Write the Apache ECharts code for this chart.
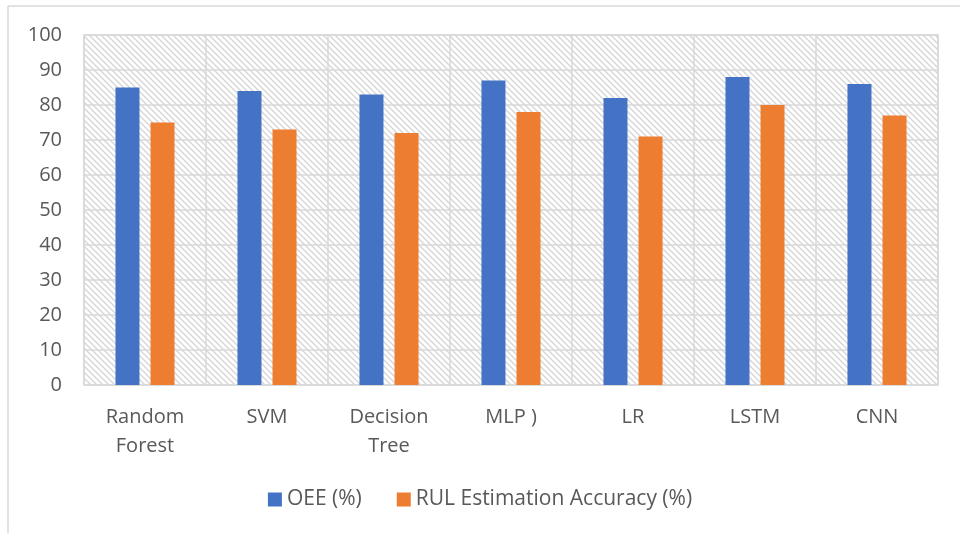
<!DOCTYPE html>
<html>
<head>
<meta charset="utf-8">
<script src="https://cdn.jsdelivr.net/npm/echarts@6/dist/echarts.min.js"></script>
<style>
  html, body { margin: 0; padding: 0; background: #fff; }
  #chart { width: 960px; height: 533px; }
</style>
</head>
<body>
<div id="chart"></div>
<script>
// data
const categories = ['Random\nForest', 'SVM', 'Decision\nTree', 'MLP )', 'LR', 'LSTM', 'CNN']
const oee = [85, 84, 83, 87, 82, 88, 86]
const rulAccuracy = [75, 73, 72, 78, 71, 80, 77]
const seriesNames = ['OEE (%)', 'RUL Estimation Accuracy (%)']

// hatched plot background
const makeHatch = () => {
  const s = 6
  const c = document.createElement('canvas')
  c.width = s
  c.height = s
  const ctx = c.getContext('2d')
  ctx.fillStyle = '#ffffff'
  ctx.fillRect(0, 0, s, s)
  ctx.strokeStyle = '#d6d6d6'
  ctx.lineWidth = 1.4
  ctx.beginPath()
  ctx.moveTo(-1, -1); ctx.lineTo(s + 1, s + 1)
  ctx.moveTo(-1, s - 1); ctx.lineTo(1, s + 1)
  ctx.moveTo(s - 1, -1); ctx.lineTo(s + 1, 1)
  ctx.stroke()
  return c
}

const font = 'Open Sans'
const grey = '#d9d9d9'

const chart = echarts.init(document.getElementById('chart'))
chart.setOption({
  animation: false,
  textStyle: { fontFamily: font },
  graphic: [
    { type: 'line', shape: { x1: 8, y1: 6, x2: 960, y2: 6 }, style: { stroke: grey, lineWidth: 1.5 } },
    { type: 'line', shape: { x1: 8, y1: 6, x2: 8, y2: 533 }, style: { stroke: grey, lineWidth: 1.5 } }
  ],
  grid: {
    left: 84, right: 22, top: 35, bottom: 148,
    show: true,
    backgroundColor: { image: makeHatch(), repeat: 'repeat' },
    borderColor: grey,
    borderWidth: 1.5
  },
  legend: {
    bottom: 18,
    left: 'center',
    icon: 'rect',
    itemWidth: 14,
    itemHeight: 14,
    itemGap: 35,
    textStyle: { fontSize: 21, color: '#595959', fontFamily: font },
    data: seriesNames
  },
  xAxis: {
    type: 'category',
    data: categories,
    axisLine: { show: false },
    axisTick: { show: false },
    splitLine: { show: true, lineStyle: { color: grey, width: 1.5 } },
    axisLabel: { color: '#595959', fontSize: 20, margin: 18, lineHeight: 29, interval: 0 }
  },
  yAxis: {
    type: 'value',
    min: 0, max: 100, interval: 10,
    axisLine: { show: false },
    axisTick: { show: false },
    splitLine: { lineStyle: { color: grey, width: 1.5 } },
    axisLabel: { color: '#595959', fontSize: 20, margin: 22 }
  },
  series: [
    { name: seriesNames[0], type: 'bar', data: oee, barWidth: 24, barGap: '46%', itemStyle: { color: '#4472c4' } },
    { name: seriesNames[1], type: 'bar', data: rulAccuracy, barWidth: 24, itemStyle: { color: '#ed7d31' } }
  ]
})
</script>
</body>
</html>
